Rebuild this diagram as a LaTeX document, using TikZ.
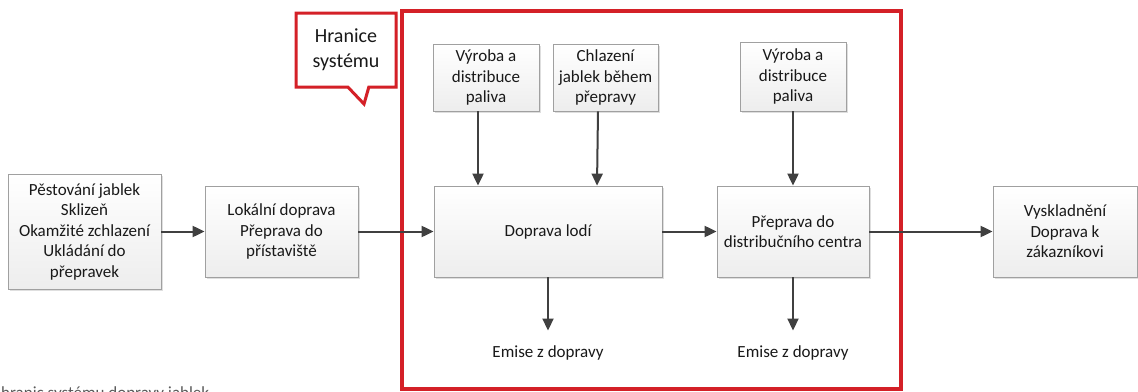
\documentclass[tikz,border=0pt]{standalone}
\usepackage{fontspec}
\setmainfont{Carlito}
\usepackage{tikz}
\usepackage{xcolor}
\definecolor{hranicered}{RGB}{212,32,39}
\definecolor{boxgray}{RGB}{160,160,160}
\definecolor{arrowgray}{RGB}{64,64,64}
\usetikzlibrary{positioning,arrows.meta,shadows,shapes.callouts}

\tikzset{
	procbox/.style={
		draw=boxgray,          % grey border
		line width=0.8pt,      % thin frame
		top color=white,       % light shading to the bottom
		bottom color=black!7,
		drop shadow={shadow xshift=1.5pt,shadow yshift=-1.5pt,fill=black!25},
		text=black!90,
		align=center,
		font=\fontsize{17}{20.5}\selectfont,
		inner sep=0pt
	},
	emisetext/.style={
		text=black!90,
		font=\fontsize{17}{20.5}\selectfont,
		inner sep=2pt
	},
	flow/.style={
		draw=arrowgray,        % dark grey connector
		line width=2pt,
		-{Triangle[length=12pt,width=11pt]}
	}
}

\begin{document}
\begin{tikzpicture}[x=1pt,y=-1pt]
	\useasboundingbox (0,0) rectangle (1138,391);

	% system boundary
	\node[
	draw=hranicered,       % red frame
	line width=4pt,
	fill=white,
	drop shadow={shadow xshift=2pt,shadow yshift=-2pt,fill=black!12},
	minimum width=499pt,
	minimum height=378pt,
	inner sep=0pt
	] (hranice) at (651.5,200) {};

	\node[
	rectangle callout,
	callout absolute pointer={(364,104)},
	callout pointer width=21pt,
	draw=hranicered,       % red frame
	line width=3pt,
	fill=white,
	drop shadow={shadow xshift=1.5pt,shadow yshift=-1.5pt,fill=black!12},
	minimum width=100pt,
	minimum height=74pt,
	align=center,
	text=black!90,
	font=\fontsize{20}{25}\selectfont
	] (popis) at (346,50) {Hranice\\systému};

	% process boxes
	\node[procbox, minimum width=153pt, minimum height=115pt] (pestovani) at (84.5,231.5)
		{Pěstování jablek\\Sklizeň\\Okamžité zchlazení\\Ukládání do\\přepravek};
	\node[procbox, minimum width=153pt, minimum height=91pt] (lokalni) at (281.5,231.5)
		{Lokální doprava\\Přeprava do\\přístaviště};
	\node[procbox, minimum width=228pt, minimum height=91pt] (lod) at (548,231.5)
		{Doprava lodí};
	\node[procbox, minimum width=152pt, minimum height=91pt] (distrib) at (793,231.5)
		{Přeprava do\\distribučního centra};
	\node[procbox, minimum width=144pt, minimum height=91pt] (vyskladneni) at (1065,231.5)
		{Vyskladnění\\Doprava k\\zákazníkovi};

	% inputs
	\node[procbox, minimum width=106pt, minimum height=67pt] (palivoA) at (486,77.5)
		{Výroba a\\distribuce\\paliva};
	\node[procbox, minimum width=105pt, minimum height=67pt] (chlazeni) at (605.5,77.5)
		{Chlazení\\jablek během\\přepravy};
	\node[procbox, minimum width=106pt, minimum height=69pt] (palivoB) at (793,76.5)
		{Výroba a\\distribuce\\paliva};

	% outputs
	\node[emisetext] (emiseA) at (548,353) {Emise z dopravy};
	\node[emisetext] (emiseB) at (793,353) {Emise z dopravy};

	% caption
	\node[anchor=base west, inner sep=0pt, text=black!65,
		font=\fontsize{17}{20.5}\selectfont] (titulek) at (1,398)
		{hranic systému dopravy jablek};

	% connectors
	\draw[flow] (pestovani) -- (lokalni);
	\draw[flow] (lokalni) -- (lod);
	\draw[flow] (lod) -- (distrib);
	\draw[flow] (distrib) -- (vyskladneni);
	\draw[flow] ([xshift=-8pt]palivoA.south) -- ([xshift=-8pt]palivoA.south |- lod.north);
	\draw[flow] ([xshift=-7.5pt]chlazeni.south) -- ([xshift=-8.5pt]chlazeni.south |- lod.north);
	\draw[flow] (palivoB) -- (distrib);
	\draw[flow, shorten >=13pt] (lod) -- (emiseA);
	\draw[flow, shorten >=13pt] (distrib) -- (emiseB);
\end{tikzpicture}
\end{document}
